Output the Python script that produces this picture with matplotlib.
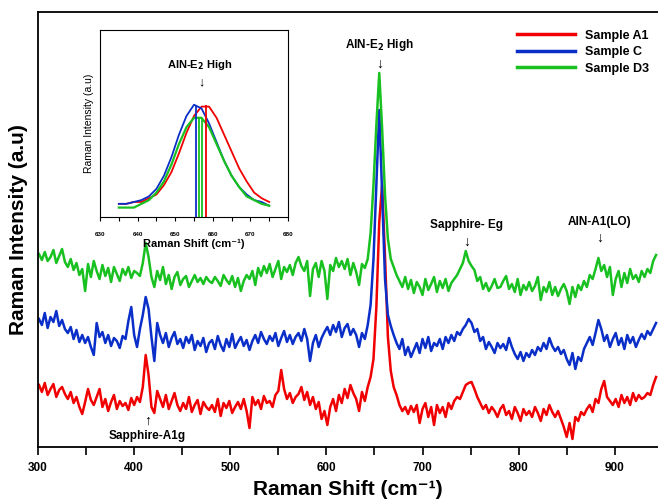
import numpy as np
import matplotlib
matplotlib.use("Agg")
import matplotlib.pyplot as plt

plt.rcParams['font.family'] = ['Liberation Sans', 'DejaVu Sans']

# Raman shift grid (cm-1), one reading every 3 cm-1
shift = np.arange(301, 944, 3)

sample_d3 = [
    193, 187, 195, 186, 190, 197, 184, 191, 198, 185,
    180, 188, 177, 184, 172, 178, 156, 183, 170, 186,
    176, 168, 182, 171, 179, 165, 180, 173, 166, 178,
    172, 180, 169, 176, 174, 171, 184, 204, 190, 170,
    160, 176, 167, 180, 163, 172, 158, 170, 175, 162,
    168, 171, 160, 166, 172, 165, 169, 163, 170, 166,
    164, 170, 166, 161, 172, 167, 163, 171, 160, 169,
    156, 166, 172, 168, 176, 162, 179, 171, 181, 174,
    183, 170, 178, 186, 168, 180, 175, 182, 172, 184,
    190, 181, 176, 186, 151, 178, 184, 170, 186, 176,
    148, 182, 176, 189, 180, 186, 178, 188, 172, 184,
    175, 162, 183, 179, 188, 214, 262, 322, 374, 318,
    252, 208, 188, 180, 172, 166, 160, 170, 158, 167,
    154, 165, 160, 152, 168, 157, 163, 170, 155, 166,
    159, 168, 156, 164, 168, 172, 178, 184, 196, 186,
    181, 177, 166, 170, 158, 164, 156, 161, 168, 159,
    160, 166, 171, 158, 163, 155, 168, 152, 162, 157,
    165, 156, 161, 170, 147, 160, 155, 165, 152, 160,
    151, 158, 163, 156, 143, 160, 150, 162, 157, 166,
    160, 172, 168, 178, 189, 176, 182, 170, 180, 152,
    168, 176, 160, 174, 164, 178, 168, 172, 165, 176,
    170, 178, 174, 186, 192,
]

sample_c = [
    128, 122, 134, 119, 130, 125, 136, 121, 127, 118,
    114, 120, 108, 117, 105, 112, 104, 110, 100, 92,
    124, 110, 115, 104, 112, 101, 109, 106, 99, 111,
    108, 126, 140, 112, 100, 118, 132, 150, 138, 110,
    86, 124, 112, 104, 114, 100, 109, 115, 103, 108,
    99, 110, 104, 112, 97, 106, 101, 109, 95, 104,
    107, 98, 111, 102, 96, 108, 100, 113, 99, 105,
    110, 101, 107, 97, 106, 112, 104, 115, 108, 103,
    111, 106, 114, 101, 109, 116, 105, 112, 103, 110,
    114, 106, 118, 108, 86, 104, 112, 100, 109, 115,
    120, 112, 122, 115, 125, 110, 119, 123, 112, 118,
    112, 100, 114, 108, 122, 142, 188, 262, 337, 252,
    168, 132, 121, 112, 104, 98, 108, 92, 100, 90,
    97, 104, 94, 108, 99, 110, 96, 104, 101, 108,
    98, 110, 104, 112, 106, 115, 112, 118, 122, 128,
    124, 115, 118, 106, 110, 98, 105, 100, 94, 104,
    99, 103, 97, 109, 100, 93, 88, 95, 86, 94,
    90, 97, 92, 100, 96, 104, 98, 109, 101, 96,
    100, 93, 97, 88, 82, 94, 78, 90, 86, 98,
    104, 110, 102, 114, 127, 118, 106, 112, 100, 108,
    114, 102, 109, 98, 112, 104, 110, 100, 107, 113,
    108, 116, 112, 118, 124,
]

sample_a1 = [
    62, 55, 64, 52, 58, 63, 50, 57, 60, 53,
    48, 55, 44, 50, 40, 33, 45, 58, 47, 42,
    50, 58, 40, 48, 36, 45, 52, 38, 46, 41,
    44, 37, 49, 42, 50, 45, 60, 92, 72, 40,
    34, 56, 48, 40, 52, 38, 46, 54, 42, 36,
    44, 38, 50, 35, 42, 47, 33, 45, 40, 37,
    42, 35, 48, 31, 44, 39, 46, 34, 40, 45,
    38, 48, 36, 19, 50, 42, 47, 38, 51, 44,
    46, 40, 52, 56, 77, 58, 48, 54, 44, 50,
    53, 60, 47, 55, 42, 50, 38, 45, 28, 36,
    22, 40, 48, 36, 52, 44, 58, 49, 62, 54,
    48, 36, 55, 46, 60, 70, 88, 140, 225, 262,
    190, 110, 76, 60, 52, 42, 36, 40, 33, 41,
    35, 42, 24, 38, 44, 30, 40, 22, 42, 34,
    40, 30, 44, 38, 46, 50, 48, 55, 62, 64,
    65, 58, 50, 44, 38, 42, 34, 40, 36, 30,
    38, 42, 32, 36, 28, 40, 34, 26, 38, 32,
    36, 30, 40, 34, 26, 38, 32, 42, 35, 30,
    36, 28, 20, 10, 24, 8, 30, 26, 35, 32,
    38, 42, 35, 48, 44, 58, 66, 50, 46, 42,
    48, 40, 52, 44, 50, 42, 54, 46, 52, 48,
    50, 54, 52, 62, 70,
]

# inset: AlN-E2 High band
inset_shift = [635, 637, 639, 641, 643, 645, 647, 649, 651, 653, 655,
               657, 659, 661, 663, 665, 667, 669, 671, 673, 675]
inset_a1 = [0.07, 0.07, 0.08, 0.08, 0.10, 0.12, 0.17, 0.24, 0.34, 0.45, 0.54,
            0.59, 0.59, 0.53, 0.44, 0.35, 0.26, 0.19, 0.13, 0.10, 0.08]
inset_c = [0.07, 0.07, 0.08, 0.09, 0.11, 0.15, 0.22, 0.32, 0.44, 0.54, 0.60,
           0.58, 0.50, 0.40, 0.30, 0.22, 0.16, 0.12, 0.09, 0.08, 0.06]
inset_d3 = [0.05, 0.05, 0.05, 0.07, 0.09, 0.13, 0.19, 0.28, 0.39, 0.48, 0.53,
            0.53, 0.48, 0.39, 0.30, 0.22, 0.16, 0.11, 0.09, 0.07, 0.06]
peak_pos = [658.2, 655.4, 656.3, 657.0]
peak_height = [0.60, 0.60, 0.53, 0.53]

red = '#f00000'
blue = '#0a2fc8'
green = '#18c020'
peak_colors = [red, blue, green, green]

fig = plt.figure(figsize=(6.58, 5.01), dpi=100)
ax = fig.add_axes([0.0578, 0.1078, 0.9422, 0.8682])

ax.plot(shift, sample_a1, color=red, lw=1.8, label='Sample A1')
ax.plot(shift, sample_c, color=blue, lw=1.8, label='Sample C')
ax.plot(shift, sample_d3, color=green, lw=1.8, label='Sample D3')

ax.set_xlim(300, 945)
ax.set_ylim(0, 435)
ax.set_yticks([])
ax.set_xticks([300, 400, 500, 600, 700, 800, 900])
ax.set_xticks([350, 450, 550, 650, 750, 850], minor=True)
ax.tick_params(axis='x', which='both', direction='out', length=6, width=1.2)
ax.tick_params(axis='x', labelsize=8.5, pad=5)
for lab in ax.get_xticklabels():
    lab.set_fontweight('bold')
for s in ['left', 'top', 'bottom']:
    ax.spines[s].set_linewidth(1.3)
ax.spines['right'].set_visible(False)

ax.set_xlabel('Raman Shift (cm⁻¹)', fontsize=15, fontweight='bold', labelpad=4)
ax.set_ylabel('Raman Intensity (a.u)', fontsize=15, fontweight='bold', labelpad=7)

leg = ax.legend(loc='upper left', bbox_to_anchor=(0.755, 0.985), frameon=False,
                handlelength=4.6, prop={'weight': 'bold', 'size': 9}, labelspacing=0.35)
for line in leg.get_lines():
    line.set_linewidth(2.5)

# peak labels
ax.text(655.5, 402, 'AlN-E$_\\mathbf{2}$ High', ha='center', va='center', fontsize=8.5, fontweight='bold')
ax.text(655.5, 383, '↓', ha='center', va='center', fontsize=10)
ax.text(746, 222, 'Sapphire- Eg', ha='center', va='center', fontsize=8.5, fontweight='bold')
ax.text(746, 205, '↓', ha='center', va='center', fontsize=10)
ax.text(884, 225, 'AlN-A1(LO)', ha='center', va='center', fontsize=8.5, fontweight='bold')
ax.text(884, 209, '↓', ha='center', va='center', fontsize=10)
ax.text(414, 11, 'Sapphire-A1g', ha='center', va='center', fontsize=8.5, fontweight='bold')
ax.text(414, 26, '↑', ha='center', va='center', fontsize=10)

# inset
axi = fig.add_axes([0.152, 0.567, 0.2857, 0.3733])
axi.plot(inset_shift, inset_a1, color=red, lw=1.3)
axi.plot(inset_shift, inset_c, color=blue, lw=1.3)
axi.plot(inset_shift, inset_d3, color=green, lw=1.6)
axi.vlines(peak_pos, 0, peak_height, colors=peak_colors, lw=1.3)
axi.set_xlim(630, 680)
axi.set_ylim(0, 1)
axi.set_yticks([])
axi.set_xticks([630, 640, 650, 660, 670, 680])
axi.set_xticks([635, 645, 655, 665, 675], minor=True)
axi.tick_params(axis='x', which='both', direction='out', length=3, width=0.8, labelsize=4.5, pad=8)
for lab in axi.get_xticklabels():
    lab.set_fontweight('bold')
axi.set_xlabel('Raman Shift (cm⁻¹)', fontsize=8, fontweight='bold', labelpad=1)
axi.set_ylabel('Raman Intensity (a.u)', fontsize=7.5, labelpad=4)
axi.text(656.5, 0.81, 'AlN-E$_\\mathbf{2}$ High', ha='center', va='center', fontsize=8, fontweight='bold')
axi.text(657, 0.72, '↓', ha='center', va='center', fontsize=9)

fig.savefig('out.png', dpi=100)
